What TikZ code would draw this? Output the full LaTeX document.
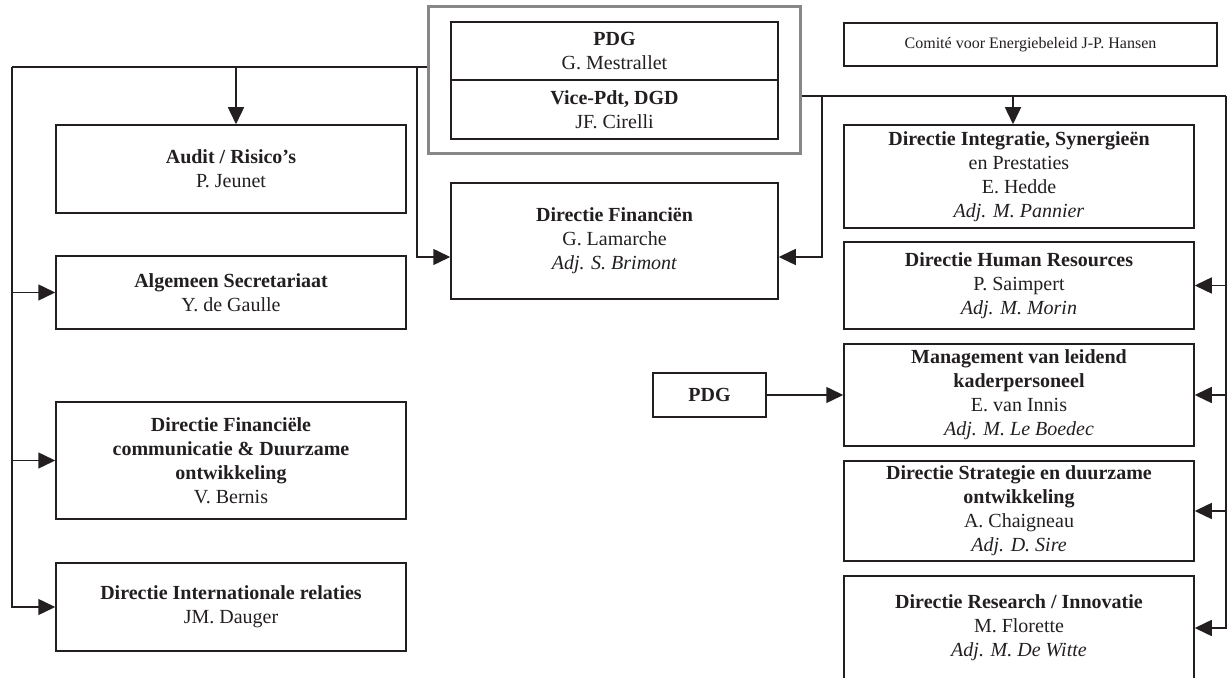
\documentclass[tikz,border=0pt]{standalone}
\usepackage{fontspec}
\setmainfont{Liberation Serif}
\usepackage{tikz}
\usetikzlibrary{calc, arrows.meta}
\definecolor{ink}{RGB}{35, 31, 32}
\definecolor{frame}{RGB}{135, 135, 135}
\tikzset{
  box/.style={draw=ink, line width=0.75pt, align=center, inner sep=1pt,
    text=ink, font=\fontsize{10}{12}\selectfont},
  arr/.style={draw=ink, line width=0.75pt, -{Triangle[length=8.5pt, width=8pt]}},
  bus/.style={draw=ink, line width=0.75pt}
}

\begin{document}
\begin{tikzpicture}[x=0.5pt, y=-0.5pt]
        \useasboundingbox (0,0) rectangle (1227,678);
        % top management
        \node[draw=frame, line width=1.5pt, minimum width=186pt, minimum height=73.5pt] (top) at (614,80.5) {};
        \node[box, minimum width=163.5pt, minimum height=29pt] (pdg) at (614.5,51) {\textbf{PDG}\\G. Mestrallet};
        \node[box, minimum width=163.5pt, minimum height=29.5pt] (vice) at (614.5,109.5) {\textbf{Vice-Pdt, DGD}\\JF. Cirelli};
        \node[box, minimum width=186.5pt, minimum height=21.5pt, font=\fontsize{8}{10}\selectfont] (comite) at (1030.5,44.5) {Comité voor Energiebeleid J-P. Hansen};
        % left column
        \node[box, minimum width=175pt, minimum height=44pt] (audit) at (231,169) {\textbf{Audit / Risico’s}\\P. Jeunet};
        \node[box, minimum width=175pt, minimum height=36.5pt] (alg) at (231,292.5) {\textbf{Algemeen Secretariaat}\\Y. de Gaulle};
        \node[box, minimum width=175pt, minimum height=58.5pt] (fincom) at (231,460.5) {\textbf{Directie Financiële}\\\textbf{communicatie \& Duurzame}\\\textbf{ontwikkeling}\\V. Bernis};
        \node[box, minimum width=175pt, minimum height=44pt] (intl) at (231,607) {\textbf{Directie Internationale relaties}\\JM. Dauger};
        % middle
        \node[box, minimum width=163.5pt, minimum height=58pt] (fin) at (614.5,241) {\textbf{Directie Financiën}\\G. Lamarche\\\textit{Adj. S. Brimont}};
        \node[box, minimum width=56.5pt, minimum height=22pt] (pdgb) at (709.5,395) {\textbf{PDG}};
        % right column
        \node[box, minimum width=175pt, minimum height=51.5pt] (integ) at (1019,176.5) {\textbf{Directie Integratie, Synergieën}\\en Prestaties\\E. Hedde\\\textit{Adj. M. Pannier}};
        \node[box, minimum width=175pt, minimum height=43.5pt] (hr) at (1019,285.5) {\textbf{Directie Human Resources}\\P. Saimpert\\\textit{Adj. M. Morin}};
        \node[box, minimum width=175pt, minimum height=51pt] (mgmt) at (1019,395) {\textbf{Management van leidend}\\\textbf{kaderpersoneel}\\E. van Innis\\\textit{Adj. M. Le Boedec}};
        \node[box, minimum width=175pt, minimum height=50pt] (strat) at (1019,511) {\textbf{Directie Strategie en duurzame}\\\textbf{ontwikkeling}\\A. Chaigneau\\\textit{Adj. D. Sire}};
        \node[box, minimum width=175pt, minimum height=52pt] (research) at (1019,628) {\textbf{Directie Research / Innovatie}\\M. Florette\\\textit{Adj. M. De Witte}};
        % buses
        \coordinate (lbus) at (12,67);
        \coordinate (lfin) at (417,67);
        \coordinate (rbus) at (1226,96);
        \coordinate (rfin) at (822,96);
        \draw[bus] (top.west |- lbus) -- (lbus);
        \draw[arr] (lbus) |- (intl);
        \foreach \n in {alg, fincom}
          \draw[arr] (lbus |- \n) -- (\n);
        \draw[arr] ([xshift=2.5pt]audit.north |- lbus) -- ([xshift=2.5pt]audit.north);
        \draw[arr] (lfin) |- ([yshift=-8pt]fin.west);
        \draw[bus] (top.east |- rbus) -- (rbus);
        \draw[arr] (rbus) |- (research);
        \foreach \n in {hr, mgmt, strat}
          \draw[arr] (rbus |- \n) -- (\n);
        \draw[arr] ([xshift=-3pt]integ.north |- rbus) -- ([xshift=-3pt]integ.north);
        \draw[arr] (rfin) |- ([yshift=-8pt]fin.east);
        \draw[arr] (pdgb) -- (mgmt);
      \end{tikzpicture}
\end{document}
